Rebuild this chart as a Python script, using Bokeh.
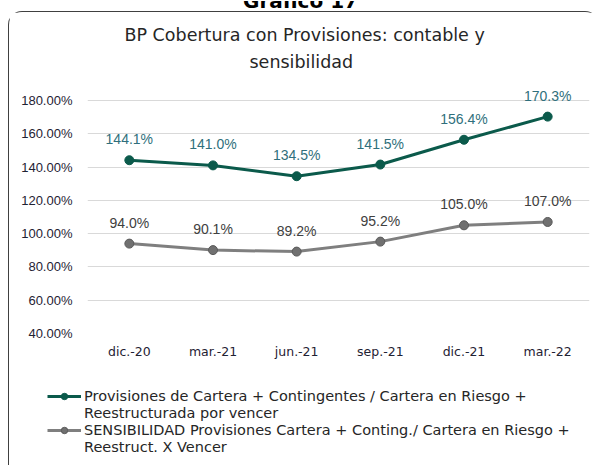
from bokeh.plotting import figure
from bokeh.layouts import column, row
from bokeh.models import (ColumnDataSource, FixedTicker, PrintfTickFormatter, Legend, LegendItem,
                          LabelSet, Title, Div)
from bokeh.core.properties import value
from bokeh.embed import file_html
from bokeh.resources import INLINE

categories = ["dic.-20", "mar.-21", "jun.-21", "sep.-21", "dic.-21", "mar.-22"]
contable = [144.1, 141.0, 134.5, 141.5, 156.4, 170.3]
sensibilidad = [94.0, 90.1, 89.2, 95.2, 105.0, 107.0]
y_ticks = [40, 60, 80, 100, 120, 140, 160, 180]
legend_lines = [
    "Provisiones de Cartera + Contingentes / Cartera en Riesgo +",
    "Reestructurada por vencer",
    "SENSIBILIDAD Provisiones Cartera + Conting./ Cartera en Riesgo +",
    "Reestruct. X Vencer",
]
title_line1 = "BP Cobertura con Provisiones: contable y"
title_line2 = "sensibilidad"
chart_number = "Gráfico 17"

FONT = "DejaVu Sans"
NUMFONT = "Liberation Sans"
GREEN = "#0b5a4b"
TEAL_TXT = "#2f6f7c"
GRAY = "#7f7f7f"
MARK_GRAY = "#707070"

src = ColumnDataSource(dict(
    x=categories, c=contable, s=sensibilidad,
    cl=[f"{v:.1f}%" for v in contable],
    sl=[f"{v:.1f}%" for v in sensibilidad],
))

# ---------------- main chart ----------------
p = figure(x_range=categories, y_range=(40, 192), width=590, height=361,
           output_backend="svg", toolbar_location=None,
           min_border_left=78, min_border_right=10, min_border_top=68, min_border_bottom=40)
p.outline_line_color = None
p.background_fill_color = "white"

p.add_layout(Title(text=title_line2, align="left", text_font=FONT, text_font_size="17.5px",
                   text_font_style="normal", text_color="#262626", standoff=17, offset=162), "above")
p.add_layout(Title(text=title_line1, align="left", text_font=FONT, text_font_size="17.5px",
                   text_font_style="normal", text_color="#262626", standoff=-6, offset=37), "above")

p.xgrid.grid_line_color = None
p.ygrid.grid_line_color = "#d9d9d9"
p.ygrid.grid_line_width = 1.2
p.yaxis.ticker = FixedTicker(ticks=y_ticks)
p.yaxis.formatter = PrintfTickFormatter(format="%.2f%%")
for ax in (p.xaxis[0], p.yaxis[0]):
    ax.axis_line_color = None
    ax.major_tick_line_color = None
    ax.minor_tick_line_color = None
    ax.major_label_text_color = "#1f2233"
p.yaxis.major_label_text_font = NUMFONT
p.yaxis.major_label_text_font_size = "13px"
p.yaxis.major_label_standoff = 9
p.xaxis.major_label_text_font = FONT
p.xaxis.major_label_text_font_size = "12.5px"
p.xaxis.major_label_standoff = 4

p.line("x", "c", source=src, line_color=GREEN, line_width=3)
p.scatter("x", "c", source=src, size=9, fill_color=GREEN, line_color=GREEN)
p.line("x", "s", source=src, line_color=GRAY, line_width=3)
p.scatter("x", "s", source=src, size=9, fill_color=MARK_GRAY, line_color="#5a5a5a")

p.add_layout(LabelSet(x="x", y="c", text="cl", source=src, y_offset=21, text_align="center",
                      text_baseline="middle", text_font=value(NUMFONT), text_font_size="14px",
                      text_color=TEAL_TXT))
p.add_layout(LabelSet(x="x", y="s", text="sl", source=src, y_offset=21, text_align="center",
                      text_baseline="middle", text_font=value(NUMFONT), text_font_size="14px",
                      text_color="#404040"))

# ---------------- legend strip (same series, drawn out of its view; only the legend shows) ----
pl = figure(width=590, height=92, x_range=categories, y_range=(0, 1),
            x_axis_location=None, y_axis_location=None,
            output_backend="svg", toolbar_location=None, min_border=0)
pl.grid.visible = False
pl.outline_line_color = None
g1 = pl.line("x", "c", source=src, line_color=GREEN, line_width=3)
g1m = pl.scatter("x", "c", source=src, fill_color=GREEN, line_color=GREEN)
g2 = pl.line("x", "s", source=src, line_color=GRAY, line_width=3)
g2m = pl.scatter("x", "s", source=src, fill_color=MARK_GRAY, line_color="#5a5a5a")
blank = pl.line("x", "s", source=src, line_alpha=0)

legend = Legend(items=[LegendItem(label=legend_lines[0], renderers=[g1, g1m]),
                       LegendItem(label=legend_lines[1], renderers=[blank]),
                       LegendItem(label=legend_lines[2], renderers=[g2, g2m]),
                       LegendItem(label=legend_lines[3], renderers=[blank])],
                location=(38, 10), orientation="vertical", border_line_color=None,
                background_fill_alpha=0,
                label_text_font=FONT, label_text_font_size="14.5px", label_text_color="#262626",
                glyph_width=34, glyph_height=16, label_height=16, label_standoff=3,
                spacing=1, padding=0, margin=0)
pl.add_layout(legend, "center")

box = column(p, row(pl, spacing=0), spacing=0,
             styles={"margin-left": "8px", "border-left": "1.5px solid #404040",
                     "border-top": "1.5px solid #404040", "border-top-left-radius": "14px",
                     "border-top-right-radius": "14px"})

head = Div(text=(f'<div style="height:11px; overflow:hidden; position:relative; width:601px;">'
                 f'<div style="position:absolute; top:-14px; left:0; width:601px; text-align:center; '
                 f'font-family:\'DejaVu Sans\'; font-weight:bold; font-size:20px; color:#000;">'
                 f'{chart_number}</div></div>'),
           width=601, height=11, margin=0, styles={"height": "11px", "overflow": "hidden"})

open("out.html", "w").write(file_html(column(head, box, spacing=0), INLINE))
